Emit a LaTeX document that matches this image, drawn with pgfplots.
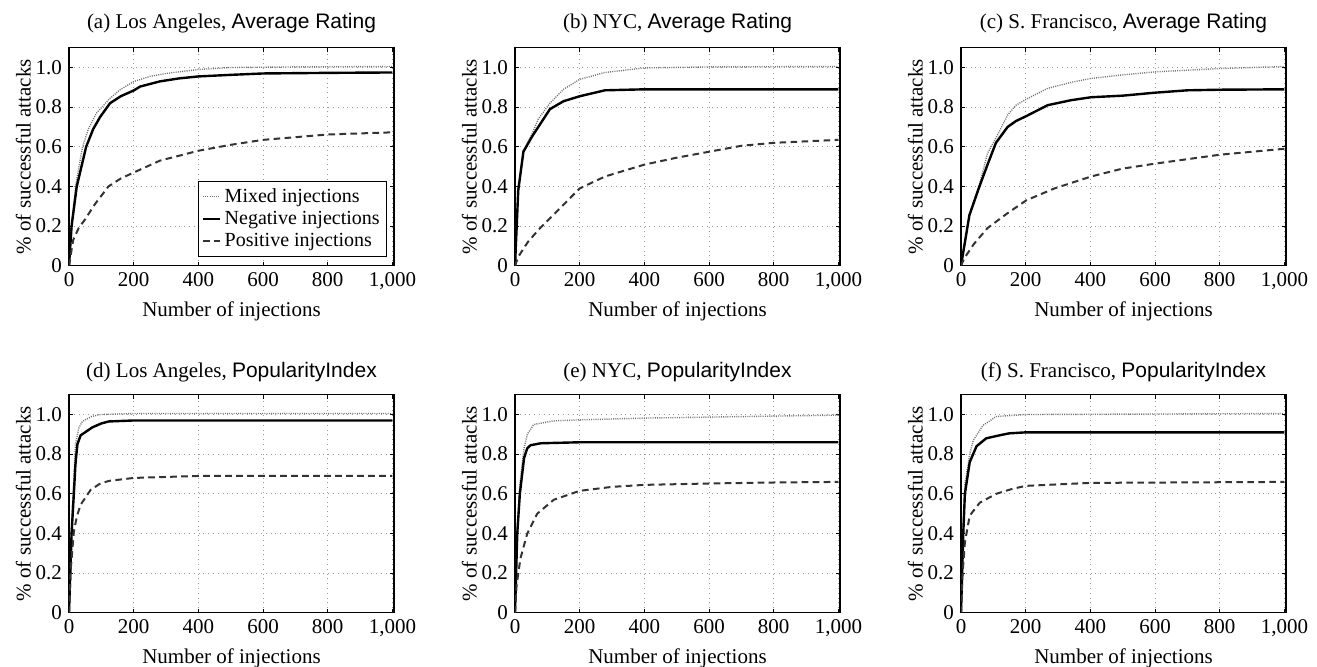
\documentclass[border=0pt]{standalone}
\usepackage{fontspec}
\setmainfont{Liberation Serif}
\setsansfont{Liberation Sans}
\usepackage{pgfplots}
\pgfplotsset{compat=1.18}

\pgfplotsset{
  base/.style={
    scale only axis, width=162.5pt, height=109pt,
    xmin=0, xmax=1005, ymin=0, ymax=1.1,
    xtick={0,200,400,600,800,1000}, xticklabels={0,200,400,600,800,{1,000}},
    ytick={0,0.2,0.4,0.6,0.8,1.0}, yticklabels={0,0.2,0.4,0.6,0.8,1.0},
    tick align=inside, major tick length=2pt, tick style={black, line width=0.5pt},
    grid=major, grid style={dotted, gray!80, line width=0.5pt},
    axis line style={line width=0.7pt},
    tick label style={font=\fontsize{10.5}{12}\selectfont},
    label style={font=\fontsize{10.5}{12}\selectfont},
    xlabel={Number of injections},
    ylabel={\% of successful attacks},
    xlabel style={at={(axis description cs:0.5,-0.235)}, anchor=base},
    ylabel style={at={(axis description cs:-0.118,0.5)}, anchor=base},
    title style={font=\fontsize{10.5}{12}\selectfont, anchor=base},
    no marks,
    legend image code/.code={\draw[#1] (0pt,0pt) -- (8.3pt,0pt);},
  },
  toprow/.style={base, title style={at={(axis description cs:0.5,1.034)}}},
  botrow/.style={base, title style={at={(axis description cs:0.5,1.025)}}},
  mixed/.style={black!55, line width=0.7pt, dash pattern=on 0.5pt off 0.6pt},
  neg/.style={black, line width=1.2pt},
  pos/.style={black!80, line width=1pt, dash pattern=on 3.3pt off 2.2pt},
}

\begin{document}
\begin{tikzpicture}
\useasboundingbox (0pt,0pt) rectangle (658.5pt,333pt);

% (a)
\begin{axis}[toprow, at={(34.5pt,200.15pt)}, anchor=south west,
  title={(a) Los Angeles, \textsf{Average Rating}},
  legend style={at={(0.979,0.04)}, anchor=south east, draw=black, line width=0.5pt,
    font=\fontsize{10}{11}\selectfont, inner sep=1.5pt, row sep=-1pt},
  legend cell align=left]
\addplot[mixed] coordinates {(0,0)(8,0.21)(22,0.42)(42,0.6)(60,0.69)(85,0.77)(127,0.845)(160,0.89)(200,0.929)(250,0.955)(300,0.97)(400,0.99)(500,1.0)(700,1.003)(1000,1.005)};
\addplot[neg] coordinates {(0,0)(8,0.2)(24,0.4)(53,0.6)(75,0.69)(96,0.75)(127,0.82)(160,0.855)(200,0.884)(220,0.904)(281,0.93)(340,0.945)(400,0.955)(500,0.963)(600,0.97)(800,0.973)(1000,0.975)};
\addplot[pos] coordinates {(0,0)(5,0.05)(13,0.13)(30,0.19)(49,0.232)(80,0.31)(122,0.40)(160,0.44)(200,0.47)(281,0.53)(400,0.58)(500,0.61)(600,0.635)(800,0.662)(1000,0.673)};
\legend{Mixed injections, Negative injections, Positive injections}
\end{axis}

% (b)
\begin{axis}[toprow, at={(257.5pt,200.15pt)}, anchor=south west,
  title={(b) NYC, \textsf{Average Rating}}]
\addplot[mixed] coordinates {(0,0)(10,0.38)(26,0.58)(50,0.655)(72,0.74)(108,0.82)(150,0.89)(200,0.94)(278,0.975)(400,0.998)(600,1.003)(1000,1.005)};
\addplot[neg] coordinates {(0,0)(10,0.38)(26,0.575)(52,0.65)(80,0.72)(108,0.79)(150,0.83)(200,0.855)(278,0.885)(400,0.89)(1000,0.89)};
\addplot[pos] coordinates {(0,0)(10,0.045)(40,0.12)(72,0.18)(124,0.265)(200,0.39)(278,0.45)(400,0.51)(500,0.545)(600,0.575)(700,0.605)(800,0.62)(1000,0.635)};
\end{axis}

% (c)
\begin{axis}[toprow, at={(480.5pt,200.15pt)}, anchor=south west,
  title={(c) S. Francisco, \textsf{Average Rating}}]
\addplot[mixed] coordinates {(0,0)(26,0.26)(57,0.41)(82,0.567)(113,0.66)(144,0.76)(170,0.81)(202,0.84)(268,0.895)(340,0.925)(402,0.945)(500,0.963)(600,0.978)(800,0.995)(1000,1.005)};
\addplot[neg] coordinates {(0,0)(26,0.255)(57,0.40)(82,0.51)(108,0.62)(144,0.70)(170,0.73)(202,0.755)(268,0.81)(340,0.835)(402,0.85)(500,0.858)(600,0.873)(700,0.885)(800,0.888)(1000,0.89)};
\addplot[pos] coordinates {(0,0)(10,0.037)(40,0.11)(82,0.19)(144,0.265)(202,0.33)(289,0.39)(402,0.45)(500,0.49)(600,0.515)(800,0.56)(1000,0.59)};
\end{axis}

% (d)
\begin{axis}[botrow, at={(34.5pt,26.65pt)}, anchor=south west,
  title={(d) Los Angeles, \textsf{PopularityIndex}}]
\addplot[mixed] coordinates {(0,0)(8,0.45)(15,0.68)(20,0.85)(30,0.93)(41,0.965)(70,0.99)(97,1.0)(200,1.005)(1000,1.005)};
\addplot[neg] coordinates {(0,0)(8,0.40)(15,0.60)(20,0.75)(26,0.85)(36,0.895)(72,0.935)(100,0.955)(123,0.965)(200,0.97)(1000,0.97)};
\addplot[pos] coordinates {(0,0)(5,0.21)(15,0.41)(25,0.49)(36,0.545)(67,0.62)(95,0.65)(123,0.665)(200,0.68)(400,0.69)(1000,0.69)};
\end{axis}

% (e)
\begin{axis}[botrow, at={(257.5pt,26.65pt)}, anchor=south west,
  title={(e) NYC, \textsf{PopularityIndex}}]
\addplot[mixed] coordinates {(0,0)(7,0.42)(15,0.65)(28,0.83)(38,0.9)(58,0.95)(120,0.968)(200,0.973)(400,0.982)(1000,0.997)};
\addplot[neg] coordinates {(0,0)(7,0.40)(15,0.60)(28,0.78)(38,0.83)(48,0.845)(80,0.855)(200,0.86)(1000,0.86)};
\addplot[pos] coordinates {(0,0)(5,0.14)(17,0.275)(38,0.40)(69,0.50)(120,0.57)(200,0.615)(300,0.635)(400,0.645)(600,0.652)(800,0.657)(1000,0.66)};
\end{axis}

% (f)
\begin{axis}[botrow, at={(480.5pt,26.65pt)}, anchor=south west,
  title={(f) S. Francisco, \textsf{PopularityIndex}}]
\addplot[mixed] coordinates {(0,0)(7,0.45)(12,0.65)(27,0.8)(38,0.87)(68,0.945)(109,0.99)(200,1.0)(1000,1.005)};
\addplot[neg] coordinates {(0,0)(7,0.40)(12,0.60)(27,0.76)(48,0.84)(78,0.88)(119,0.895)(149,0.905)(200,0.91)(1000,0.91)};
\addplot[pos] coordinates {(0,0)(5,0.2)(12,0.355)(27,0.49)(58,0.555)(109,0.60)(159,0.625)(200,0.64)(400,0.655)(1000,0.66)};
\end{axis}
\end{tikzpicture}
\end{document}
